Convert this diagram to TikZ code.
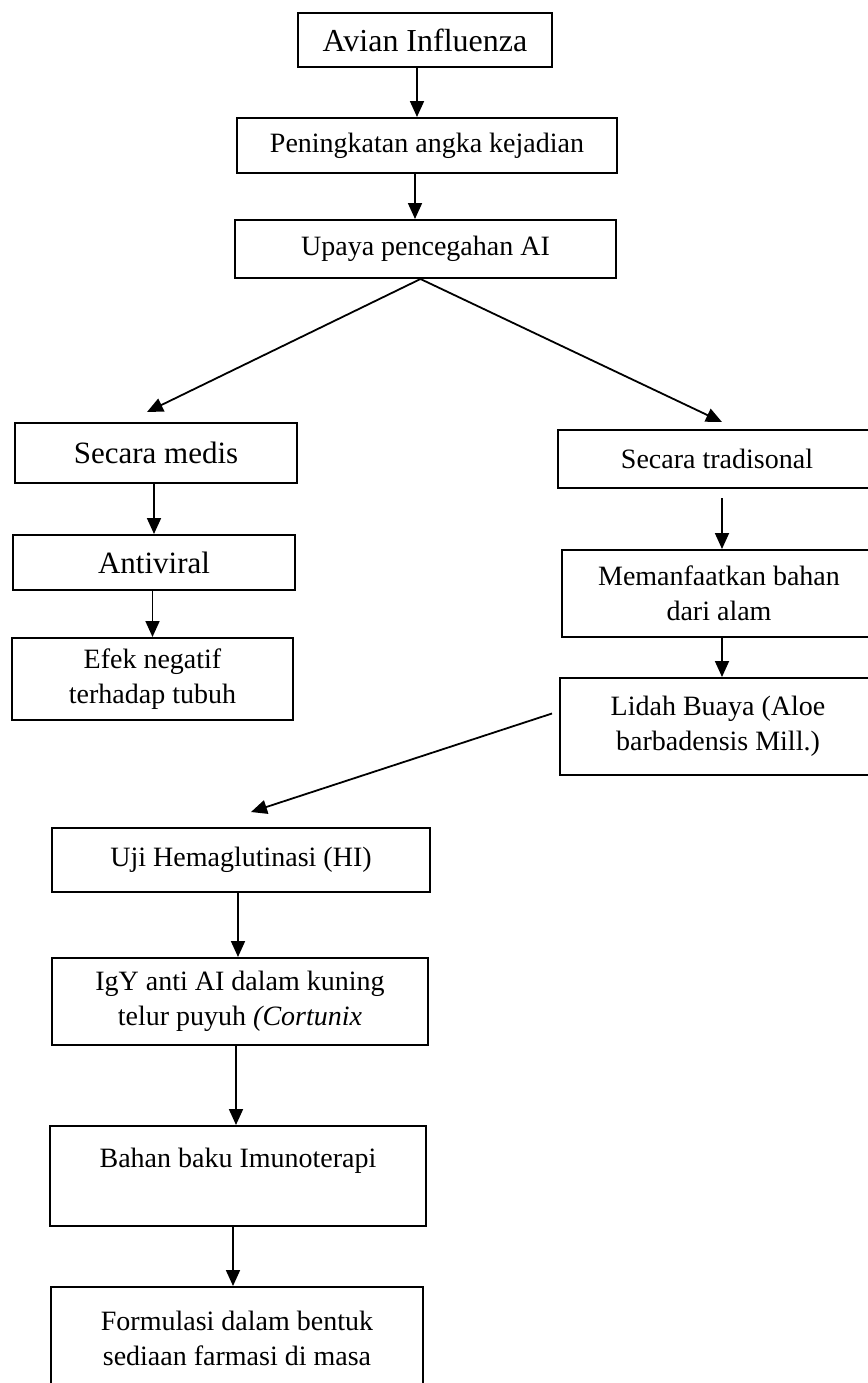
\documentclass[tikz,border=0pt]{standalone}
\usepackage{fontspec}
\setmainfont{Liberation Serif}
\usetikzlibrary{arrows.meta}
\tikzset{
	box/.style = {draw, line width = 1pt, align = center, inner sep = 0pt, font = \fontsize{14}{17.5}\selectfont},
	arr/.style = {line width = .9pt, -{Triangle[length = 8pt, width = 7pt]}}
}
\begin{document}
\begin{tikzpicture}[x = .5pt, y = -.5pt]
	\useasboundingbox (0,0) rectangle (868,1383);
	\clip (0,0) rectangle (868,1383);
	% top column
	\node[box, minimum width = 127pt, minimum height = 27pt, font = \fontsize{16}{19}\selectfont] (avian) at (425,40) {Avian Influenza};
	\node[box, minimum width = 190pt, minimum height = 27.5pt] (pening) at (427,145.5) {Peningkatan angka kejadian};
	\node[box, minimum width = 190.5pt, minimum height = 29pt] (upaya) at (425.5,249) {Upaya pencegahan AI};
	% left branch
	\node[box, minimum width = 141pt, minimum height = 30pt, font = \fontsize{15.5}{18}\selectfont] (medis) at (156,453) {Secara medis};
	\node[box, minimum width = 141pt, minimum height = 27.5pt, font = \fontsize{15.5}{18}\selectfont] (antiviral) at (154,562.5) {Antiviral};
	\node[box, minimum width = 140.5pt, minimum height = 41pt] (efek) at (152.5,679) {Efek negatif\\terhadap tubuh};
	% right branch
	\node[box, minimum width = 159pt, minimum height = 29pt] (tradis) at (717,459) {Secara tradisonal};
	\node[box, minimum width = 157pt, minimum height = 43.5pt] (manfaat) at (719,593.5) {Memanfaatkan bahan\\dari alam};
	\node[box, minimum width = 158pt, minimum height = 48.5pt] (lidah) at (718,726.5) {Lidah Buaya (Aloe\\barbadensis Mill.)};
	% lower column
	\node[box, minimum width = 189pt, minimum height = 32pt] (uji) at (241,860) {Uji Hemaglutinasi (HI)};
	\node[box, minimum width = 188pt, minimum height = 43.5pt] (igy) at (240,1001.5) {IgY anti AI dalam kuning\\telur puyuh \textit{(Cortunix}};
	\node[box, minimum width = 188pt, text height = 20.5pt, text depth = 29.5pt, anchor = north] (bahan) at (238,1125) {Bahan baku Imunoterapi};
	\node[box, minimum width = 186pt, minimum height = 51pt] (formulasi) at (237,1338) {Formulasi dalam bentuk\\sediaan farmasi di masa};

	\draw[arr] ([xshift = -4pt]avian.south) -- ([xshift = -4pt]avian.south |- pening.north);
	\draw[arr] ([xshift = -6pt]pening.south) -- ([xshift = -6pt]pening.south |- upaya.north);
	\draw[arr] ([xshift = -2.5pt]upaya.south) -- ([xshift = -4.5pt, yshift = 5pt]medis.north); %to medis
	\draw[arr] ([xshift = -2.5pt]upaya.south) -- ([xshift = 2.5pt, yshift = 3.5pt]tradis.north); %to tradisional
	\draw[arr] (medis.south -| antiviral.north) -- (antiviral.north);
	\draw[arr] (antiviral.south -| efek.north) -- (efek.north);
	\draw[arr] ([xshift = 2.5pt, yshift = -4.5pt]tradis.south) -- ([xshift = 1.5pt]manfaat.north);
	\draw[arr] ([xshift = 1.5pt]manfaat.south) -- ([xshift = 1.5pt]manfaat.south |- lidah.north);
	\draw[arr] ([xshift = -3.5pt, yshift = 6.5pt]lidah.west) -- ([xshift = 5pt, yshift = 7.5pt]uji.north);
	\draw[arr] ([xshift = -1.5pt]uji.south) -- ([xshift = -1.5pt]uji.south |- igy.north);
	\draw[arr] ([xshift = -2pt]igy.south) -- ([xshift = -2pt]igy.south |- bahan.north);
	\draw[arr] ([xshift = -2.5pt]bahan.south) -- ([xshift = -2.5pt]bahan.south |- formulasi.north);
\end{tikzpicture}
\end{document}
